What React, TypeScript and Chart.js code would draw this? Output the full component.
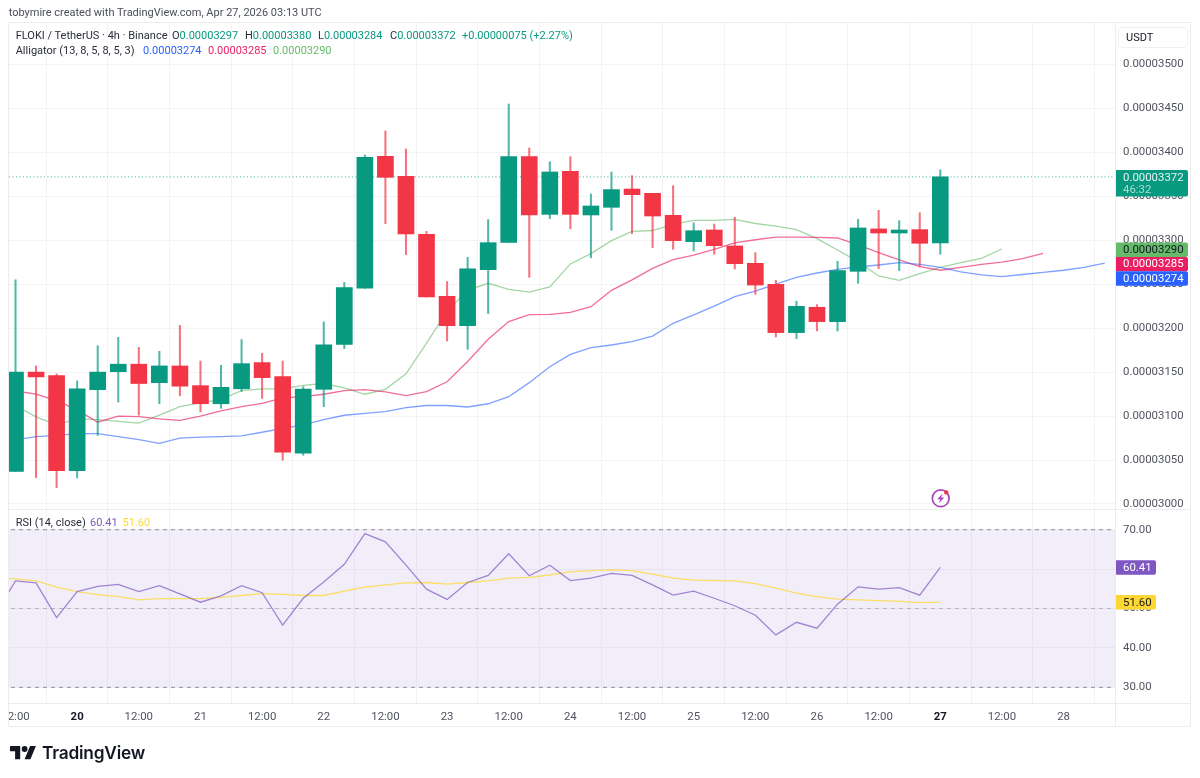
import React, { useEffect, useRef } from "react";
import { Chart, registerables } from "chart.js";

Chart.register(...registerables);

// OHLC in units of 1e-8 USDT
const opens = [3037,3150,3146,3038,3130,3150.5,3159,3138,3157,3134.6,3114,3131,3160.8,3145,3057.7,3130.4,3181.6,3245.3,3395.4,3372.6,3306.7,3236.2,3202.8,3266.5,3297.6,3395,3329.4,3378.3,3328.7,3337.4,3358.2,3353.3,3328.3,3298.3,3311.6,3293.4,3273.7,3249.8,3194.9,3223.7,3207.4,3264.6,3312.8,3308.2,3312,3297];
const highs = [3255,3157,3148,3140,3180,3189.6,3178,3173.6,3203,3162.6,3157.7,3187,3171.4,3162.6,3133.5,3207,3252,3396.9,3424.2,3403.7,3310,3252.9,3280.5,3323.4,3454.9,3404.8,3389.3,3395,3352.5,3377.6,3373.4,3353.3,3362,3319.6,3318.4,3326,3285.8,3254.4,3230.7,3226.7,3276,3323.8,3334,3322.2,3331.3,3380];
const lows = [3037,3030,3018.6,3029.6,3078,3116,3101,3114,3123,3104.7,3108.8,3128,3120,3049.7,3055.4,3110.7,3176.7,3245.3,3318.7,3283.6,3235.4,3185.4,3176,3216.5,3297.6,3257.8,3324.5,3313,3280,3311.2,3307.4,3291.5,3289.6,3287.7,3284,3267.3,3238.5,3190,3188,3196.8,3196.8,3251,3267.7,3265.4,3270,3284];
const closes = [3150,3144.5,3038,3131,3150,3159,3137,3157,3134,3114,3132.7,3159.6,3143.7,3058.8,3130.8,3181,3246,3394.2,3371.5,3307,3235.4,3202.8,3267.3,3297.2,3395,3328.7,3377.6,3329.4,3338.9,3357.5,3351.8,3327.5,3299.5,3310.8,3293.8,3273.3,3249,3194.9,3224.8,3207.4,3265.4,3313.9,3308.2,3311.6,3296.5,3372];

// Alligator lines, each displaced forward past the last candle
const jaw = [3073,3076.6,3078,3080,3080,3076.6,3073.2,3069,3075,3076,3076.6,3077.4,3081.6,3086,3090,3096,3100.9,3103,3105,3109.6,3112,3112,3110.3,3114,3122,3138,3156,3170.2,3177.8,3180.8,3184.6,3191,3205.5,3215,3225,3235.8,3242,3250,3257.8,3262.7,3266.9,3269.6,3271.8,3274.5,3272.6,3269,3264,3260.5,3258.6,3261,3263.5,3265.8,3269,3274];
const teeth = [3128.5,3125,3117.5,3107,3093,3100,3099.4,3096.7,3095,3100,3106,3110.7,3114.5,3120.6,3122,3124.8,3129,3130,3127.4,3123.2,3127.8,3139,3162,3187.3,3207.4,3215.3,3215.7,3218,3224.4,3243,3254.8,3268,3278,3283,3289.6,3297,3300.5,3303.6,3303.6,3303.3,3302.5,3294.6,3285.9,3277.5,3270,3265.8,3269,3272.6,3275,3279,3285];
const lips = [3112,3099,3090,3097,3096,3094,3092,3101,3110.7,3115,3119,3129,3131,3131,3135,3137,3132,3124.8,3130.4,3148,3183,3219,3243,3251,3244,3241,3246.8,3273,3284.7,3299.5,3310,3311,3318,3322.6,3322.6,3323.7,3319,3316,3312,3301.8,3288.9,3275.6,3259.3,3254.4,3262,3269,3274.5,3279.4,3290];

// RSI and its average, starting one candle before the first visible one
const rsi = [48.5,57,56.5,47.7,54.3,55.6,56.1,54.3,55.8,53.7,51.6,53.2,55.8,54,45.8,52.6,56.7,61.2,69,66.9,61,54.9,52.3,56.6,58.4,63.9,58.3,61,57.1,57.7,58.9,58.4,56,53.4,54.4,52.6,50.7,48.3,43.3,46.5,45,51.1,55.5,54.9,55.3,53.4,60.41];
const rsiMa = [57.9,57.5,57,55.4,54.3,53.5,53,52.2,52.5,52.5,52.5,52.8,53.3,53.8,53.6,53.3,53.3,54.4,55.4,56,56.5,56.6,56.2,56.6,57,57.7,57.9,58.5,59.3,59.6,59.8,59.6,58.7,57.7,57.2,57.1,57,56.3,55.2,53.9,53,52.4,52.2,52,51.8,51.5,51.6];

const timeTicks = [0,3,6,9,12,15,18,21,24,27,30,33,36,39,42,45,48,51];
const timeLabels = ["12:00","20","12:00","21","12:00","22","12:00","23","12:00","24","12:00","25","12:00","26","12:00","27","12:00","28"];
const boldLabels = ["20","27"];
const priceTicks = [3000,3050,3100,3150,3200,3250,3300,3350,3400,3450,3500];
const rsiTicks = [30,40,50,60,70];

const UP = "#089981";
const DOWN = "#F23645";
const JAW = "#2962FF";
const TEETH = "#E91E63";
const LIPS = "#66BB6A";
const RSI_C = "#7E57C2";
const MA_C = "#FDD835";
const GRID = "#f3f3f5";
const FRAME = "#ececef";
const AXIS_TEXT = "#50535e";
const FONT = "Roboto";
const AXIS_SIZE = 11.4;

const fmt = (v: number) => (v / 1e8).toFixed(8);
const points = (arr: number[], from = 0) => arr.map((y, i) => ({ x: i + from, y }));
const last = (a: number[]) => a[a.length - 1];
const soft = (hex: string, a: number) => {
  const n = parseInt(hex.slice(1), 16);
  return `rgba(${(n >> 16) & 255},${(n >> 8) & 255},${n & 255},${a})`;
};

function tag(ctx: any, left: number, w: number, cy: number, h: number, bg: string) {
  ctx.fillStyle = bg;
  ctx.beginPath();
  ctx.roundRect(left, cy - h / 2, w, h, [0, 2, 2, 0]);
  ctx.fill();
}

const overlayPlugin = {
  id: "overlay",
  afterDraw(chart: any) {
    const { ctx, chartArea, scales } = chart;
    const p = scales.yPrice;
    const r = scales.yRsi;
    const x = scales.x;
    ctx.save();
    ctx.strokeStyle = FRAME;
    ctx.lineWidth = 1;
    const axisLeft = chartArea.right;
    const axisRight = p.right;
    const bottom = x.bottom;
    ctx.beginPath();
    ctx.moveTo(0.5, chartArea.top - 0.5); ctx.lineTo(axisRight - 0.5, chartArea.top - 0.5);
    ctx.lineTo(axisRight - 0.5, bottom - 0.5); ctx.lineTo(0.5, bottom - 0.5); ctx.lineTo(0.5, chartArea.top - 0.5);
    ctx.moveTo(axisLeft - 0.5, chartArea.top); ctx.lineTo(axisLeft - 0.5, bottom);
    ctx.moveTo(0, p.bottom + 0.5); ctx.lineTo(axisRight, p.bottom + 0.5);
    ctx.moveTo(0, chartArea.bottom + 0.5); ctx.lineTo(axisRight, chartArea.bottom + 0.5);
    ctx.stroke();

    const left = axisLeft;
    const w = 72;
    ctx.textBaseline = "middle";
    ctx.textAlign = "left";
    ctx.font = `${AXIS_SIZE}px ${FONT}`;
    // last price, two lines
    const closeY = p.getPixelForValue(last(closes));
    const lastH = 26.4;
    tag(ctx, left, w, closeY + 6.4, lastH, UP);
    ctx.fillStyle = "rgba(255,255,255,0.9)";
    ctx.fillText(fmt(last(closes)), left + 7, closeY + 0.8);
    ctx.fillStyle = "rgba(255,255,255,0.65)";
    ctx.fillText("46:32", left + 7, closeY + 13);
    // alligator tags, pushed apart so they stack
    const rows = [
      { v: last(lips), bg: LIPS, fg: "#131722" },
      { v: last(teeth), bg: TEETH, fg: "#ffffff" },
      { v: last(jaw), bg: JAW, fg: "#ffffff" },
    ];
    const step = 14.4;
    let prev = -Infinity;
    rows.forEach((row) => {
      const cy = Math.max(p.getPixelForValue(row.v) + 0.7, prev + step);
      prev = cy;
      tag(ctx, left, w, cy, step, row.bg);
      ctx.fillStyle = row.fg;
      ctx.fillText(fmt(row.v), left + 7, cy + 0.5);
    });
    // RSI tags
    [
      { v: last(rsi), bg: RSI_C, fg: "#ffffff" },
      { v: last(rsiMa), bg: MA_C, fg: "#131722" },
    ].forEach((row) => {
      const cy = r.getPixelForValue(row.v);
      tag(ctx, left, 40, cy, 14.4, row.bg);
      ctx.fillStyle = row.fg;
      ctx.fillText(row.v.toFixed(2), left + 7, cy + 0.5);
    });
    ctx.restore();
  },
};

const abs = (left: number, top: number): React.CSSProperties => ({
  position: "absolute",
  left,
  top,
  whiteSpace: "nowrap",
  lineHeight: "14px",
});

export default function App() {
  const ref = useRef<HTMLCanvasElement | null>(null);

  useEffect(() => {
    document.body.style.margin = "0";
    const idx = closes.map((_, i) => i);
    const colors = closes.map((c, i) => (c >= opens[i] ? UP : DOWN));
    const wickColors = colors.map((c) => soft(c, 0.7));
    const lineBase = { type: "line", pointRadius: 0, tension: 0, borderWidth: 1.3, fill: false };
    const chart = new Chart(ref.current as HTMLCanvasElement, {
      type: "bar",
      data: {
        datasets: [
          {
            type: "bar", label: "Bodies", xAxisID: "x", yAxisID: "yPrice", order: 1, grouped: false,
            barThickness: 16, backgroundColor: colors, borderWidth: 0,
            data: idx.map((i) => ({ x: i, y: [opens[i], closes[i]] })),
          },
          {
            type: "bar", label: "Wicks", xAxisID: "x", yAxisID: "yPrice", order: 2, grouped: false,
            barThickness: 1.4, backgroundColor: wickColors, borderWidth: 0,
            data: idx.map((i) => ({ x: i, y: [lows[i], highs[i]] })),
          },
          { ...lineBase, label: "Jaw", xAxisID: "x", yAxisID: "yPrice", order: 3, borderColor: soft(JAW, 0.6), data: points(jaw) },
          { ...lineBase, label: "Teeth", xAxisID: "x", yAxisID: "yPrice", order: 3, borderColor: soft(TEETH, 0.65), data: points(teeth) },
          { ...lineBase, label: "Lips", xAxisID: "x", yAxisID: "yPrice", order: 3, borderColor: soft(LIPS, 0.6), data: points(lips) },
          {
            ...lineBase, borderWidth: 1, label: "Last", xAxisID: "x", yAxisID: "yPrice", order: 6, borderColor: soft(UP, 0.75),
            borderDash: [1, 2.5], data: [{ x: -1, y: last(closes) }, { x: 60, y: last(closes) }],
          },
          {
            ...lineBase, borderWidth: 1, label: "RSI 70", xAxisID: "x", yAxisID: "yRsi", order: 7, borderColor: "#8a8d97",
            borderDash: [4, 4], fill: { value: 30 }, backgroundColor: "rgba(126,87,194,0.1)",
            data: [{ x: -1, y: 70 }, { x: 60, y: 70 }],
          },
          {
            ...lineBase, borderWidth: 1, label: "RSI 50", xAxisID: "x", yAxisID: "yRsi", order: 6, borderColor: "rgba(120,123,134,0.45)",
            borderDash: [4, 4], data: [{ x: -1, y: 50 }, { x: 60, y: 50 }],
          },
          {
            ...lineBase, borderWidth: 1, label: "RSI 30", xAxisID: "x", yAxisID: "yRsi", order: 6, borderColor: "#8a8d97",
            borderDash: [4, 4], data: [{ x: -1, y: 30 }, { x: 60, y: 30 }],
          },
          { ...lineBase, label: "RSI MA", xAxisID: "x", yAxisID: "yRsi", order: 4, borderColor: soft(MA_C, 0.75), data: points(rsiMa, -1) },
          { ...lineBase, label: "RSI", xAxisID: "x", yAxisID: "yRsi", order: 3, borderColor: soft(RSI_C, 0.7), data: points(rsi, -1) },
        ] as any,
      },
      options: {
        responsive: false,
        animation: false,
        events: [],
        layout: { padding: { left: 0, right: 1, top: 23, bottom: 51 } },
        plugins: { legend: { display: false }, tooltip: { enabled: false } },
        scales: {
          x: {
            type: "linear", position: "bottom", offset: false, min: -0.365, max: 53.55,
            grid: { color: GRID, drawTicks: false },
            border: { display: false },
            afterBuildTicks: (s: any) => { s.ticks = timeTicks.map((value) => ({ value })); },
            afterFit: (s: any) => { s.paddingLeft = 0; s.paddingRight = 0; s.height = 24; },
            ticks: {
              autoSkip: false, maxRotation: 0, padding: 7,
              callback: (v: any) => timeLabels[timeTicks.indexOf(v)],
              color: (c: any) => boldLabels.includes(timeLabels[timeTicks.indexOf(c.tick?.value)]) ? "#131722" : AXIS_TEXT,
              font: (c: any) => ({
                family: FONT, size: AXIS_SIZE,
                weight: boldLabels.includes(timeLabels[timeTicks.indexOf(c.tick?.value)]) ? "bold" : "normal",
              }),
            },
          },
          yPrice: {
            type: "linear", position: "right", stack: "panes", stackWeight: 486, weight: 1,
            min: 2994.3, max: 3547,
            grid: { color: GRID, drawTicks: false },
            border: { display: false },
            afterBuildTicks: (s: any) => { s.ticks = priceTicks.map((value) => ({ value })); },
            afterFit: (s: any) => { s.width = 75; s.paddingTop = 0; s.paddingBottom = 0; },
            ticks: {
              padding: 7, color: AXIS_TEXT, font: { family: FONT, size: AXIS_SIZE },
              callback: (v: any) => fmt(Number(v)),
            },
          },
          yRsi: {
            type: "linear", position: "right", stack: "panes", stackWeight: 194, weight: 2,
            min: 26.02, max: 75.25,
            grid: { color: GRID, drawTicks: false },
            border: { display: false },
            afterBuildTicks: (s: any) => { s.ticks = rsiTicks.map((value) => ({ value })); },
            afterFit: (s: any) => { s.width = 75; s.paddingTop = 0; s.paddingBottom = 0; },
            ticks: {
              padding: 7, color: AXIS_TEXT, font: { family: FONT, size: AXIS_SIZE },
              callback: (v: any) => Number(v).toFixed(2),
            },
          },
        },
      } as any,
      plugins: [overlayPlugin as any],
    });
    return () => chart.destroy();
  }, []);

  const text: React.CSSProperties = { fontFamily: FONT, fontSize: 11, color: "#2a2e39" };
  return (
    <div style={{ position: "fixed", left: 0, top: 0, width: 1200, height: 778, background: "#fff", overflow: "hidden", ...text }}>
      <canvas ref={ref} width={1184} height={778} style={{ position: "absolute", left: 8, top: 0, width: 1184, height: 778 }} />
      <div style={{ ...abs(8.7, 6), color: "#4a4e59" }}>tobymire created with TradingView.com, Apr 27, 2026 03:13 UTC</div>

      <div style={abs(15.7, 29)}>FLOKI / TetherUS · 4h · Binance</div>
      <div style={abs(172, 29)}>O<span style={{ color: UP }}>{fmt(opens[45])}</span></div>
      <div style={abs(245, 29)}>H<span style={{ color: UP }}>{fmt(highs[45])}</span></div>
      <div style={abs(318, 29)}>L<span style={{ color: UP }}>{fmt(lows[45])}</span></div>
      <div style={abs(390, 29)}>C<span style={{ color: UP }}>{fmt(closes[45])}</span></div>
      <div style={{ ...abs(462, 29), color: UP }}>+0.00000075 (+2.27%)</div>

      <div style={abs(15.7, 44)}>Alligator (13, 8, 5, 8, 5, 3)</div>
      <div style={{ ...abs(143, 44), color: JAW }}>{fmt(last(jaw))}</div>
      <div style={{ ...abs(208, 44), color: TEETH }}>{fmt(last(teeth))}</div>
      <div style={{ ...abs(273, 44), color: LIPS }}>{fmt(last(lips))}</div>

      <div style={abs(15.7, 516)}>RSI (14, close)</div>
      <div style={{ ...abs(90, 516), color: RSI_C }}>{last(rsi).toFixed(2)}</div>
      <div style={{ ...abs(122.5, 516), color: MA_C }}>{last(rsiMa).toFixed(2)}</div>

      <div style={{ position: "absolute", left: 1118, top: 26.5, width: 70, height: 21.5, boxSizing: "border-box", border: "1px solid #f0f0f3", borderRadius: 4, paddingLeft: 7, lineHeight: "19px", color: "#131722" }}>USDT</div>

      <svg style={{ position: "absolute", left: 930, top: 488 }} width="22" height="22" viewBox="0 0 22 22">
        <circle cx="10.7" cy="10.3" r="8.4" fill="#fff" stroke="#AB47BC" strokeWidth="1.7" />
        <path d="M12.6 5.6 L7.2 11.3 H10.2 L8.8 15.2 L14.2 9.5 H11.2 Z" fill="#AB47BC" />
        <circle cx="16.3" cy="4.4" r="2.2" fill="#F23645" />
      </svg>

      <svg style={{ position: "absolute", left: 10, top: 742.5 }} width="27" height="20" viewBox="0 0 37 27">
        <path d="M14 22H7V11H0V4h14v18zM28 22h-8l7.5-18h8L28 22z" fill="#131722" />
        <circle cx="20" cy="8" r="4" fill="#131722" />
      </svg>
      <div style={{ position: "absolute", left: 42, top: 742, fontFamily: "Inter", fontSize: 17.3, fontWeight: 600, lineHeight: "22px", color: "#131722", whiteSpace: "nowrap", letterSpacing: "-0.2px" }}>TradingView</div>
    </div>
  );
}
